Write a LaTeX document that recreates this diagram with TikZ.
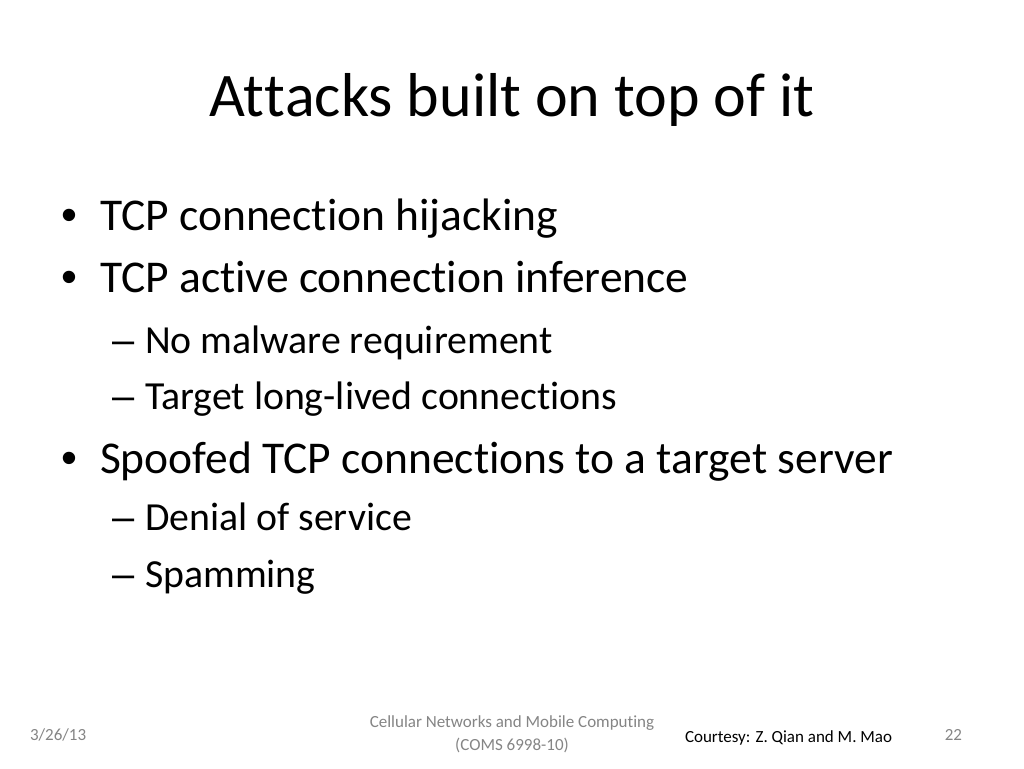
\documentclass[tikz,border=0pt]{standalone}
\usepackage{fontspec}
\setmainfont{Carlito}[Ligatures={NoCommon}]
\newfontfamily\bulletfont{Liberation Sans}
\newcommand\nolg{\kern0pt}
\begin{document}
\begin{tikzpicture}[x=1pt,y=-1pt,
  every node/.style={inner sep=0pt,outer sep=0pt},
  title/.style={anchor=base,font=\fontsize{62}{70}\selectfont},
  lvlone/.style={anchor=base west,font=\fontsize{45.5}{52}\selectfont},
  bul/.style={anchor=base west,font=\bulletfont\fontsize{45.5}{52}\selectfont},
  dsh/.style={anchor=base west,font=\bulletfont\fontsize{39.8}{46}\selectfont},
  lvltwo/.style={anchor=base west,font=\fontsize{39.8}{46}\selectfont},
  foot/.style={font=\fontsize{17}{20}\selectfont,text=black!48}]
\useasboundingbox[fill=white] (0,0) rectangle (1024,768);
\node[title] (t) at (512,116) {At\nolg t\nolg acks built on top of it};
\node[bul] (b1d) at (61,230) {•};
\node[lvlone] (b1) at (100,230) {TCP connect\nolg ion hijacking};
\node[bul] (b2d) at (61,292) {•};
\node[lvlone] (b2) at (100,292) {TCP act\nolg ive connect\nolg ion inference};
\node[dsh] (s1d) at (112,353) {–};
\node[lvltwo] (s1) at (145,353) {No malware requirement};
\node[dsh] (s2d) at (112,409) {–};
\node[lvltwo] (s2) at (145,409) {Target long-lived connect\nolg ions};
\node[bul] (b3d) at (61,473) {•};
\node[lvlone] (b3) at (100,473) {Spoofed TCP connect\nolg ions to a target server};
\node[dsh] (s3d) at (112,530) {–};
\node[lvltwo] (s3) at (145,530) {Denial of service};
\node[dsh] (s4d) at (112,587) {–};
\node[lvltwo] (s4) at (145,587) {Spamming};
\node[foot,anchor=base west] (date) at (30,740) {3/26/13};
\node[foot,anchor=base] (c1) at (512,727) {Cellular Networks and Mobile Comput\nolg ing};
\node[foot,anchor=base] (c2) at (512,750) {(COMS 6998-10)};
\node[anchor=base west,font=\fontsize{17}{20}\selectfont] (cr) at (685,742) {Courtesy: Z. Qian and M. Mao};
\node[foot,anchor=base east] (pg) at (962,740) {22};
\end{tikzpicture}
\end{document}
